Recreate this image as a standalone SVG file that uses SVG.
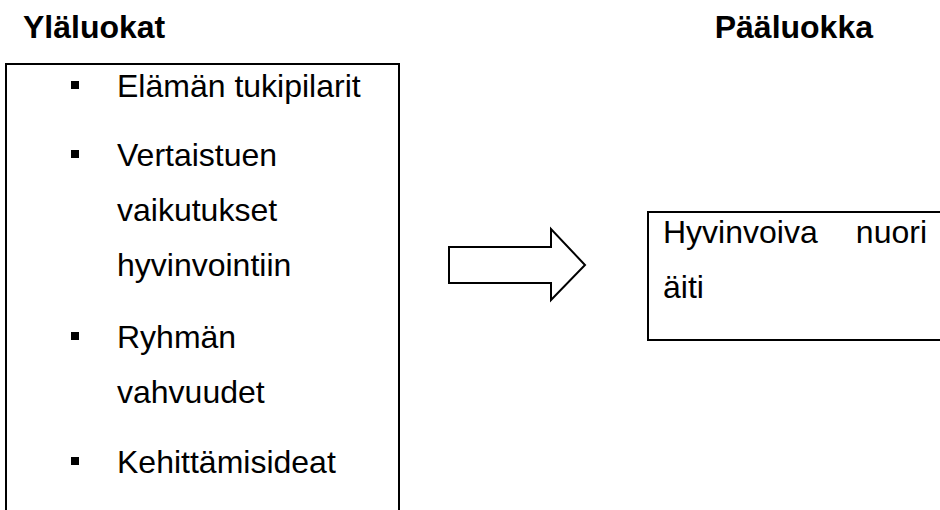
<svg xmlns="http://www.w3.org/2000/svg" width="940" height="510" viewBox="0 0 940 510">
<style>
.t{font-family:"Liberation Sans",Arial,sans-serif;font-size:32px;fill:#000}
.b{font-weight:bold}
.box{fill:none;stroke:#000;stroke-width:2}
.bul{fill:#000}
</style>
<rect width="940" height="510" fill="#fff"/>
<g id="heading-left"><text class="t b" x="23" y="38">Yläluokat</text></g>
<g id="heading-right"><text class="t b" x="873" y="38" text-anchor="end">Pääluokka</text></g>
<g id="node-ylaluokat">
<rect class="box" x="6" y="64" width="393" height="460"/>
<rect class="bul" x="71" y="81" width="8" height="8"/>
<rect class="bul" x="71" y="150" width="8" height="8"/>
<rect class="bul" x="71" y="332" width="8" height="8"/>
<rect class="bul" x="71" y="457" width="8" height="8"/>
<g class="t">
<text x="117" y="97">Elämän tukipilarit</text>
<text x="117" y="166">Vertaistuen</text>
<text x="117" y="221">vaikutukset</text>
<text x="117" y="276">hyvinvointiin</text>
<text x="117" y="348">Ryhmän</text>
<text x="117" y="403">vahvuudet</text>
<text x="117" y="473">Kehittämisideat</text>
</g>
</g>
<g id="connectors">
<path class="box" stroke-width="1.5" d="M449,247 H551 V229 L585,265 L551,300 V283 H449 Z"/>
</g>
<g id="node-paaluokka">
<rect class="box" x="648" y="212" width="300" height="128"/>
<g class="t">
<text x="663" y="243">Hyvinvoiva</text>
<text x="927" y="243" text-anchor="end">nuori</text>
<text x="663" y="298">äiti</text>
</g>
</g>
</svg>
